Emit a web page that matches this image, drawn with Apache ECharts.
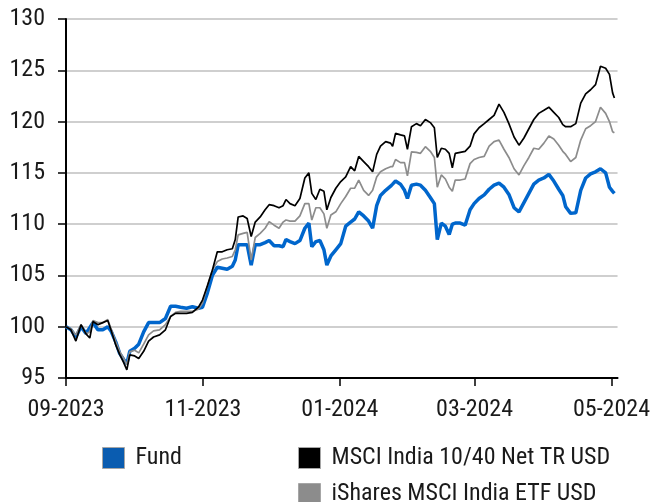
<!DOCTYPE html>
<html>
<head>
    <meta charset="utf-8">
    <title>Fund vs benchmark</title>
    <script src="https://cdn.jsdelivr.net/npm/echarts@6/dist/echarts.min.js"></script>
    <style>
        body { margin: 0; background: #fff; }
        #main { width: 653px; height: 502px; }
    </style>
</head>
<body>
<div id="main"></div>
<script type="text/javascript">
    // days counted from 01-09-2023
    var days = [0, 2.2, 4.4, 6.7, 8.9, 10.6, 12.0, 14.2, 16.4, 18.6, 20.0, 22.2, 23.9, 25.7, 27.1, 28.4, 30.6, 32.4, 34.6, 36.8,
        39.0, 41.7, 44.3, 46.6, 48.8, 51.0, 53.7, 56.3, 59.0, 60.8, 63.0, 65.2, 67.4, 69.6, 71.8, 74.1, 75.4, 76.7, 78.9, 80.7,
        82.5, 84.3, 86.5, 88.7, 90.5, 92.7, 94.9, 96.7, 98.0, 99.8, 102.0, 104.2, 106.4, 108.2, 109.5, 111.3, 113.1, 114.9, 116.2, 118.0,
        120.2, 122.4, 124.6, 126.8, 128.6, 130.4, 132.6, 134.8, 136.6, 138.4, 140.1, 142.4, 144.6, 145.5, 146.8, 149.0, 150.8, 152.1, 153.9, 156.1,
        157.9, 160.1, 162.3, 164.1, 165.4, 167.2, 169.0, 170.7, 172.1, 173.4, 175.6, 177.8, 180.0, 181.8, 184.0, 186.3, 188.5, 190.7, 192.9, 195.1,
        197.3, 199.6, 201.8, 204.0, 206.2, 208.4, 210.6, 212.9, 215.1, 217.3, 219.5, 221.3, 222.6, 224.8, 227.1, 229.3, 231.5, 233.7, 235.9, 238.1,
        240.4, 242.1, 243.5, 244.3];

    var fund = [100.0, 99.7, 99.0, 100.0, 99.35, 99.9, 100.4, 99.7, 99.7, 100.0, 99.6, 98.5, 97.4, 96.8, 96.4, 97.6, 97.9, 98.3, 99.5, 100.4,
        100.4, 100.4, 100.8, 102.0, 102.0, 101.9, 101.8, 101.95, 101.8, 101.9, 103.3, 105.0, 105.8, 105.7, 105.6, 105.9, 106.5, 108.0, 108.0, 108.0,
        106.0, 108.0, 108.0, 108.2, 108.4, 107.9, 107.9, 107.8, 108.5, 108.3, 108.1, 108.4, 109.6, 110.1, 107.8, 108.3, 108.4, 107.5, 106.0, 106.9,
        107.5, 108.1, 109.8, 110.2, 110.5, 111.2, 110.8, 110.3, 109.6, 111.8, 112.8, 113.3, 113.7, 113.9, 114.2, 113.9, 113.3, 112.5, 113.8, 113.9,
        113.8, 113.3, 112.6, 112.0, 108.5, 110.1, 109.8, 109.0, 110.0, 110.1, 110.1, 109.9, 111.4, 112.0, 112.5, 112.85, 113.4, 113.8, 114.0, 113.6,
        112.9, 111.6, 111.2, 112.1, 113.0, 113.9, 114.3, 114.5, 114.85, 114.2, 113.4, 112.8, 111.7, 111.05, 111.1, 113.3, 114.5, 114.9, 115.1, 115.4,
        115.0, 113.6, 113.2, 113.0];

    var msci = [100.0, 99.7, 98.6, 100.2, 99.3, 98.9, 100.5, 100.2, 100.4, 100.6, 99.7, 98.2, 97.3, 96.5, 95.8, 97.25, 97.15, 96.9, 97.6, 98.6,
        99.0, 99.2, 99.7, 101.0, 101.3, 101.3, 101.3, 101.4, 101.9, 102.6, 104.0, 105.5, 107.3, 107.3, 107.5, 107.6, 108.5, 110.7, 110.8, 110.55,
        108.8, 110.2, 110.7, 111.4, 111.9, 111.8, 111.6, 111.8, 112.4, 112.0, 111.8, 112.5, 114.5, 115.0, 113.0, 112.4, 113.4, 113.2, 111.4, 112.6,
        113.5, 114.15, 114.6, 115.6, 115.2, 116.6, 116.1, 115.6, 115.1, 116.8, 117.6, 118.05, 117.9, 117.6, 118.85, 118.7, 118.6, 117.3, 119.5, 119.8,
        119.6, 120.2, 119.9, 119.4, 116.5, 117.4, 117.3, 116.9, 115.5, 116.9, 117.0, 117.1, 117.6, 118.8, 119.4, 119.8, 120.2, 120.6, 121.7, 120.9,
        119.8, 118.5, 117.7, 118.4, 119.3, 120.2, 120.8, 121.1, 121.4, 120.9, 120.4, 119.7, 119.5, 119.5, 119.8, 121.8, 122.7, 123.1, 123.6, 125.4,
        125.2, 124.6, 122.8, 122.3];

    var ishares = [100.0, 99.8, 99.2, 100.2, 99.3, 99.5, 100.6, 100.4, 100.4, 100.7, 99.85, 98.5, 97.6, 96.9, 96.3, 97.55, 97.7, 97.45, 98.3, 99.2,
        99.6, 99.7, 100.2, 101.0, 101.4, 101.5, 101.5, 101.5, 101.7, 102.3, 104.0, 105.5, 106.35, 106.6, 106.7, 106.85, 107.5, 108.95, 109.1, 109.2,
        106.5, 108.7, 109.1, 109.6, 110.25, 109.9, 109.6, 110.2, 110.4, 110.3, 110.3, 110.8, 112.0, 112.0, 110.4, 111.6, 111.6, 111.0, 109.6, 110.9,
        111.2, 112.0, 112.7, 113.5, 113.5, 114.3, 113.3, 112.8, 113.3, 114.6, 115.1, 115.4, 115.6, 115.6, 116.3, 116.0, 116.0, 114.7, 117.05, 117.0,
        116.9, 117.55, 117.1, 116.5, 113.6, 114.8, 114.4, 113.6, 113.2, 114.3, 114.3, 114.4, 115.9, 116.3, 116.5, 116.6, 117.6, 118.05, 118.2, 117.3,
        116.5, 115.4, 114.8, 115.7, 116.5, 117.4, 117.3, 117.9, 118.6, 118.3, 117.7, 117.1, 116.8, 116.1, 116.5, 118.2, 119.3, 119.6, 120.0, 121.4,
        120.8, 120.0, 119.0, 118.9];

    var tickDays = [0, 61, 122, 182, 243];
    var tickLabels = ['09-2023', '11-2023', '01-2024', '03-2024', '05-2024'];

    var names = ['Fund', 'MSCI India 10/40 Net TR USD', 'iShares MSCI India ETF USD'];
    var colors = ['#0066cc', '#000000', '#8c8c8c'];
    var legendColors = ['#0a5cb0', '#000000', '#8c8c8c'];

    function pairs(vals) {
        var out = [];
        for (var i = 0; i < vals.length; i++) {
            out.push([days[i], vals[i]]);
        }
        return out;
    }

    function legendItem(i) {
        return { name: names[i], itemStyle: { color: legendColors[i], borderColor: '#a6a6a6', borderWidth: 1 } };
    }

    var font = '"Roboto Condensed", "Liberation Sans", sans-serif';
    var txt = { fontFamily: font, fontSize: 24, color: '#1a1a1a' };
    var legendText = { fontFamily: font, fontSize: 24, color: '#1a1a1a', lineHeight: 21, padding: [0, 0, 0, 6] };

    var myChart = echarts.init(document.getElementById('main'));
    myChart.setOption({
        animation: false,
        textStyle: { fontFamily: font },
        grid: { left: 66, right: 33, top: 19, bottom: 124 },
        legend: [
            {
                data: [legendItem(0)],
                left: 102, top: 446, padding: 0,
                icon: 'rect', itemWidth: 22, itemHeight: 21,
                textStyle: legendText
            },
            {
                data: [legendItem(1), legendItem(2)],
                left: 298, top: 446, height: 80, padding: 0, orient: 'vertical', itemGap: 12,
                icon: 'rect', itemWidth: 22, itemHeight: 21,
                textStyle: legendText
            }
        ],
        xAxis: {
            type: 'value',
            min: 0, max: 245.7,
            axisLine: { lineStyle: { color: '#000', width: 2 } },
            axisTick: { show: true, length: 8, lineStyle: { color: '#000', width: 1.5 }, customValues: tickDays },
            axisLabel: Object.assign({
                customValues: tickDays,
                margin: 20,
                formatter: function (v) { return tickLabels[tickDays.indexOf(v)]; }
            }, txt),
            splitLine: { show: false }
        },
        yAxis: {
            type: 'value',
            min: 95, max: 130, interval: 5,
            axisLine: { show: true, lineStyle: { color: '#000', width: 2 } },
            axisTick: { show: true, length: 8, lineStyle: { color: '#000', width: 1.5 } },
            axisLabel: Object.assign({ margin: 21 }, txt),
            splitLine: { lineStyle: { color: '#bfbfbf', width: 1.5 } }
        },
        series: [
            { name: names[0], type: 'line', data: pairs(fund), showSymbol: false, color: colors[0], lineStyle: { width: 3.5 }, z: 2 },
            { name: names[2], type: 'line', data: pairs(ishares), showSymbol: false, color: colors[2], lineStyle: { width: 1.7 }, z: 3 },
            { name: names[1], type: 'line', data: pairs(msci), showSymbol: false, color: colors[1], lineStyle: { width: 1.7 }, z: 4 }
        ]
    });
</script>
</body>
</html>
